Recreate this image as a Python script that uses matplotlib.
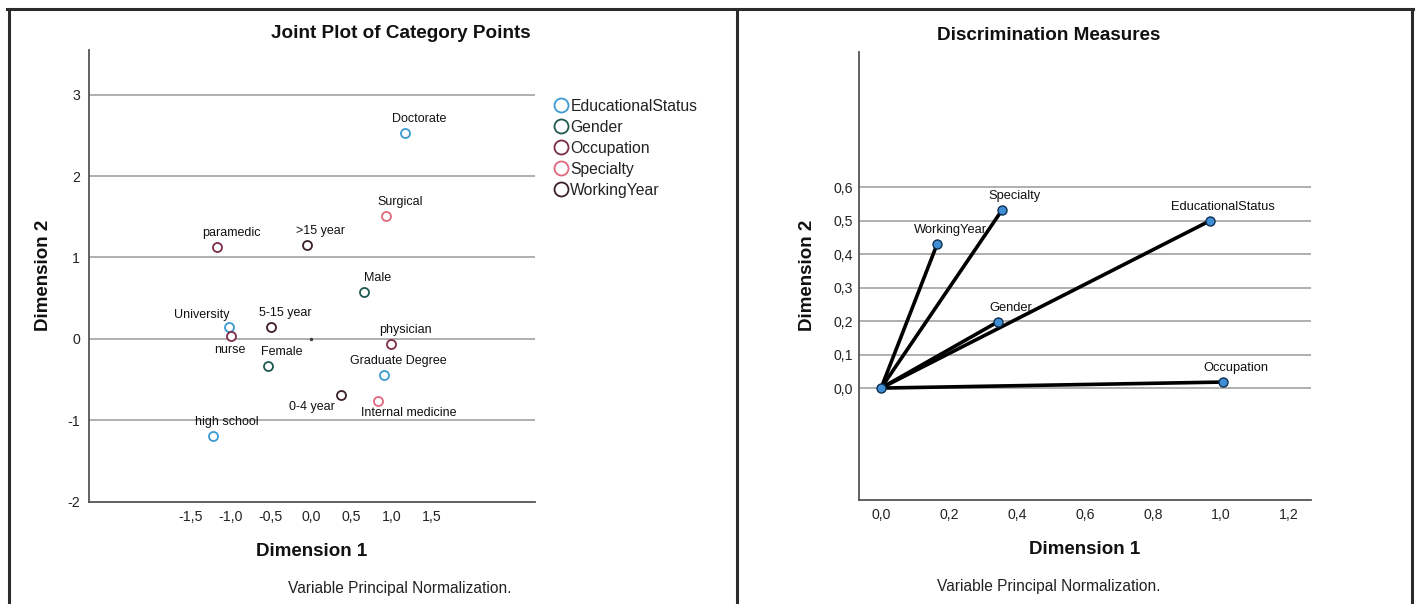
import matplotlib
matplotlib.use("Agg")
import matplotlib.pyplot as plt
from matplotlib.lines import Line2D
from matplotlib.ticker import FixedLocator, FuncFormatter

plt.rcParams['font.family'] = ['Liberation Sans', 'DejaVu Sans']

# ---------------- data ----------------
cat_labels = ["Doctorate", "University", "Graduate Degree", "high school",
              "Male", "Female",
              "paramedic", "nurse", "physician",
              "Surgical", "Internal medicine",
              ">15 year", "5-15 year", "0-4 year"]
cat_group = ["EducationalStatus", "EducationalStatus", "EducationalStatus", "EducationalStatus",
             "Gender", "Gender",
             "Occupation", "Occupation", "Occupation",
             "Specialty", "Specialty",
             "WorkingYear", "WorkingYear", "WorkingYear"]
cat_dim1 = [1.17, -1.02, 0.91, -1.22, 0.66, -0.54, -1.17, -1.00, 1.00, 0.93, 0.84, -0.05, -0.50, 0.37]
cat_dim2 = [2.53, 0.15, -0.45, -1.19, 0.58, -0.33, 1.13, 0.04, -0.06, 1.51, -0.77, 1.15, 0.14, -0.69]

groups = ["EducationalStatus", "Gender", "Occupation", "Specialty", "WorkingYear"]

disc_vars = ["WorkingYear", "Specialty", "EducationalStatus", "Gender", "Occupation"]
disc_dim1 = [0.165, 0.355, 0.969, 0.344, 1.007]
disc_dim2 = [0.43, 0.53, 0.50, 0.198, 0.018]

origin = [0.0, 0.0]

left_xticks = [-1.5, -1.0, -0.5, 0.0, 0.5, 1.0, 1.5]
left_yticks = [-2, -1, 0, 1, 2, 3]
right_xticks = [0.0, 0.2, 0.4, 0.6, 0.8, 1.0, 1.2]
right_yticks = [0.0, 0.1, 0.2, 0.3, 0.4, 0.5, 0.6]

# ---------------- styles ----------------
group_colors = {"EducationalStatus": "#3a9ad2", "Gender": "#1e5a50",
                "Occupation": "#7a2c4c", "Specialty": "#e0677e",
                "WorkingYear": "#3b1f27"}
label_offsets = {"University": (-27, 12), "nurse": (-1, -14),
                 "0-4 year": (-29, -12), "Internal medicine": (30, -12)}
default_offset = (14, 14)

W, H = 1418, 604
fig = plt.figure(figsize=(W / 100, H / 100), dpi=100)

def fx(px):
    return px / W

def fy(py):
    return 1 - py / H

grid_c = "#a9a9a9"
spine_c = "#555555"

def style_axes(ax):
    for s in ["top", "right"]:
        ax.spines[s].set_visible(False)
    for s in ["left", "bottom"]:
        ax.spines[s].set_color(spine_c)
        ax.spines[s].set_linewidth(1.3)
    ax.tick_params(length=0, labelsize=10.2, colors="#222222")

comma = FuncFormatter(lambda v, p: f"{v:.1f}".replace(".", ","))

# ---------------- left panel ----------------
axL = fig.add_axes([fx(88.6), fy(501.5), fx(535 - 88.6), (501.5 - 50) / H])
style_axes(axL)
axL.set_xlim(-2.77, 2.79)
axL.set_ylim(-2.0, 3.55)
axL.xaxis.set_major_locator(FixedLocator(left_xticks))
axL.xaxis.set_major_formatter(comma)
axL.yaxis.set_major_locator(FixedLocator(left_yticks))
axL.yaxis.set_major_formatter(FuncFormatter(lambda v, p: f"{v:.0f}"))
axL.tick_params(axis="x", pad=6)
axL.tick_params(axis="y", pad=6)
for yv in left_yticks[1:]:
    axL.axhline(yv, color=grid_c, lw=1.3, zorder=1)

for g in groups:
    xs = [x for x, gg in zip(cat_dim1, cat_group) if gg == g]
    ys = [y for y, gg in zip(cat_dim2, cat_group) if gg == g]
    axL.plot(xs, ys, linestyle="none", marker="o", ms=6.5, mfc="white",
             mec=group_colors[g], mew=1.3, zorder=3, label=g)

for lab, x, y in zip(cat_labels, cat_dim1, cat_dim2):
    off = label_offsets.get(lab, default_offset)
    axL.annotate(lab, (x, y), xytext=off, textcoords="offset pixels",
                 ha="center", va="center", fontsize=9, color="#111111", zorder=4)

axL.plot([origin[0]], [origin[1]], marker="o", ms=1.5, color="#444444", linestyle="none", zorder=3)

leg = axL.legend(loc="upper left", bbox_to_anchor=(fx(546), fy(91)),
                 bbox_transform=fig.transFigure, frameon=False, fontsize=11.3,
                 handlelength=0.85, handletextpad=0.2, labelspacing=0.38,
                 borderpad=0, markerscale=1.55)
for t in leg.get_texts():
    t.set_color("#222222")

fig.text(fx(401), fy(33), "Joint Plot of Category Points", ha="center", va="center",
         fontsize=13.6, fontweight="bold", color="#111111")
fig.text(fx(43.6), fy(275), "Dimension 2", ha="center", va="center", rotation=90,
         fontsize=13.5, fontweight="bold", color="#111111")
fig.text(fx(312), fy(551.5), "Dimension 1", ha="center", va="center",
         fontsize=13.5, fontweight="bold", color="#111111")
fig.text(fx(400), fy(588.5), "Variable Principal Normalization.", ha="center", va="center",
         fontsize=11.2, color="#222222")

# ---------------- right panel ----------------
axR = fig.add_axes([fx(859), fy(500), fx(1311 - 859), (500 - 52) / H])
style_axes(axR)
axR.set_xlim(-0.065, 1.265)
axR.set_ylim(-0.334, 1.003)
axR.xaxis.set_major_locator(FixedLocator(right_xticks))
axR.xaxis.set_major_formatter(comma)
axR.yaxis.set_major_locator(FixedLocator(right_yticks))
axR.yaxis.set_major_formatter(comma)
axR.tick_params(axis="x", pad=6)
axR.tick_params(axis="y", pad=4.5)
for yv in right_yticks:
    axR.axhline(yv, color=grid_c, lw=1.3, zorder=1)

for lab, x, y in zip(disc_vars, disc_dim1, disc_dim2):
    axR.plot([origin[0], x], [origin[1], y], color="black", lw=2.6, zorder=3,
             solid_capstyle="round")
axR.plot(disc_dim1 + [origin[0]], disc_dim2 + [origin[1]], linestyle="none", marker="o",
         ms=6.5, mfc="#3f8ed6", mec="#0f2f4f", mew=1.0, zorder=4)
for lab, x, y in zip(disc_vars, disc_dim1, disc_dim2):
    axR.annotate(lab, (x, y), xytext=(13, 14), textcoords="offset pixels",
                 ha="center", va="center", fontsize=9.3, color="#111111", zorder=2)

fig.text(fx(1049), fy(35), "Discrimination Measures", ha="center", va="center",
         fontsize=13.6, fontweight="bold", color="#111111")
fig.text(fx(808), fy(275), "Dimension 2", ha="center", va="center", rotation=90,
         fontsize=13.5, fontweight="bold", color="#111111")
fig.text(fx(1085), fy(549), "Dimension 1", ha="center", va="center",
         fontsize=13.5, fontweight="bold", color="#111111")
fig.text(fx(1049), fy(587), "Variable Principal Normalization.", ha="center", va="center",
         fontsize=11.2, color="#222222")

# ---------------- panel frames ----------------
frame_c = "#2b2b2b"
fig.add_artist(Line2D([fx(7), fx(1413)], [fy(9), fy(9)], color=frame_c, lw=2.2))
fig.add_artist(Line2D([fx(8.5), fx(8.5)], [fy(9), 0], color=frame_c, lw=2.2))
fig.add_artist(Line2D([fx(1411.5), fx(1411.5)], [fy(9), 0], color=frame_c, lw=2.2))
fig.add_artist(Line2D([fx(737), fx(737)], [fy(9), 0], color=frame_c, lw=2.2))

fig.savefig("out.png", dpi=100)
